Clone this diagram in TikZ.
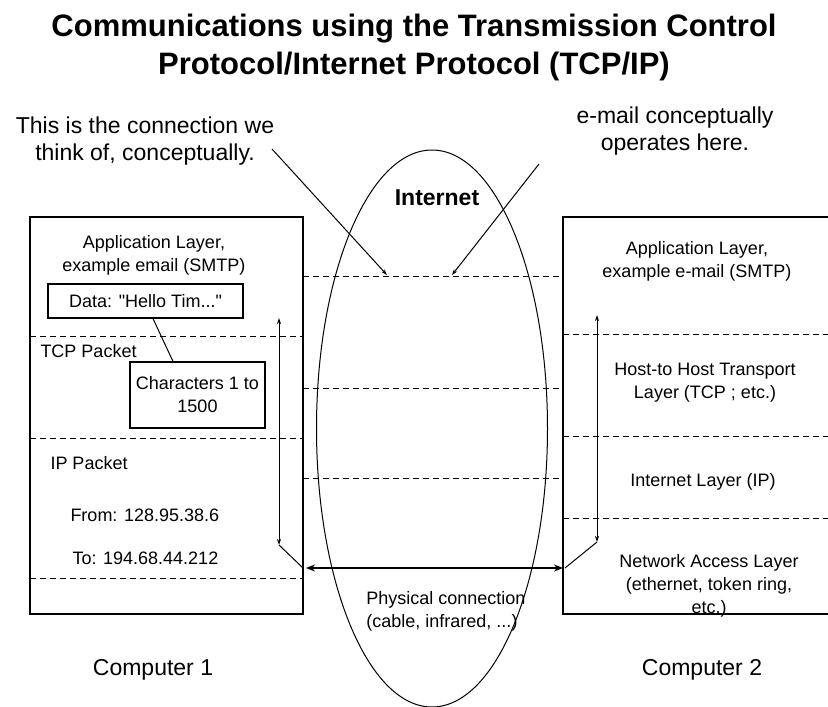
\documentclass[tikz,border=0pt]{standalone}
\usepackage{fontspec}
\setmainfont{Liberation Sans}
\usetikzlibrary{arrows.meta}
\tikzset{
  layer/.style={dash pattern=on 6pt off 4pt, line width=1pt},
  lbl/.style={font=\fontsize{18}{23}\selectfont, align=center, inner sep=0pt},
  note/.style={font=\fontsize{23}{27}\selectfont, align=center, inner sep=0pt},
  headline/.style={font=\bfseries\fontsize{31}{38}\selectfont, anchor=base, inner sep=0pt},
  pkt/.style={lbl, draw, line width=1.2pt},
  >={Stealth[length=6pt,width=4pt]}
}

\begin{document}
\begin{tikzpicture}[x=1pt, y=-1pt, line width=1pt]
  \useasboundingbox (0,0) rectangle (828,707);
  % title
  \node[headline] (title1) at (414,36) {Communications using the Transmission Control};
  \node[headline] (title2) at (414,74) {Protocol/Internet Protocol (TCP/IP)};

  % the two computers and the internet
  \draw[line width=1.3pt] (30,217) rectangle (303,614);
  \draw[line width=1.3pt] (828,217) -- (563,217) -- (563,614) -- (828,614);
  \draw (432,428.5) ellipse [x radius=115.5, y radius=278.5];
  \node[font=\bfseries\fontsize{23}{27}\selectfont, inner sep=0pt] (inet) at (437,198) {Internet};

  % layer borders
  \foreach \y in {336,438,578} \draw[layer] (30,\y) -- (303,\y);
  \foreach \y in {276,388,478} \draw[layer] (303,\y) -- (563,\y);
  \foreach \y in {334,436,518} \draw[layer] (563,\y) -- (828,\y);

  % computer 1
  \node[lbl] (app1) at (154,255) {Application Layer,\\example email (SMTP)};
  \node[pkt, minimum width=195pt, minimum height=34pt] (data) at (145.5,301) {Data: \textquotedbl Hello Tim...\textquotedbl};
  \node[lbl, anchor=west] (tcp) at (40,351) {TCP Packet};
  \node[pkt, minimum width=135pt, minimum height=66pt] (chars) at (197.5,395) {Characters 1 to\\1500};
  \draw ([xshift=7.5pt]data.south) -- ([xshift=-24.5pt]chars.north);
  \node[lbl, anchor=west] (ip) at (50,463) {IP Packet};
  \node[lbl, anchor=west] (from) at (70,515) {From: 128.95.38.6};
  \node[lbl, anchor=west] (to) at (72,558) {To: 194.68.44.212};
  \node[note] (pc1) at (153,670) {Computer 1};

  % computer 2
  \node[lbl] (app2) at (697,261) {Application Layer,\\example e-mail (SMTP)};
  \node[lbl] (host2) at (705,383) {Host-to Host Transport\\Layer (TCP ; etc.)};
  \node[lbl] (inet2) at (703,482) {Internet Layer (IP)};
  \node[lbl] (net2) at (709,586) {Network Access Layer\\(ethernet, token ring,\\etc.)};
  \node[note] (pc2) at (702,670) {Computer 2};

  % data path through the stacks
  \coordinate (down1) at (279,318);
  \coordinate (low1) at (279,545);
  \coordinate (phys1) at (303,568);
  \coordinate (up2) at (597,315);
  \coordinate (low2) at (597,542);
  \coordinate (phys2) at (563,568);
  \draw[<->] (down1) -- (low1);
  \draw (low1) -- (phys1);
  \draw[<->] (up2) -- (low2);
  \draw (low2) -- ([xshift=2pt]phys2);
  \draw[{Stealth[length=9pt,width=7pt]}-{Stealth[length=9pt,width=7pt]}, line width=1.6pt]
    ([xshift=3pt]phys1) -- (phys2);
  \node[lbl, align=left] (phys) at (446,611) {Physical connection\\(cable, infrared, ...)};

  % notes
  \node[note] (think) at (145,141) {This is the connection we\\think of, conceptually.};
  \node[note] (email) at (675,131) {e-mail conceptually\\operates here.};
  \coordinate (think from) at (272,149);
  \coordinate (think to) at (387,275);
  \coordinate (email from) at (539,164);
  \coordinate (email to) at (452,275);
  \draw[->] (think from) -- (think to);
  \draw[->] (email from) -- (email to);
\end{tikzpicture}
\end{document}
